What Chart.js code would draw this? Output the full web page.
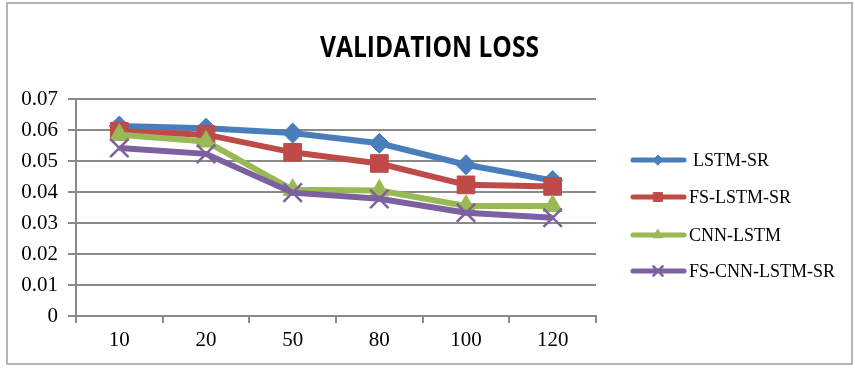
<!DOCTYPE html>
<html>
<head>
<meta charset="utf-8">
<script src="https://cdn.jsdelivr.net/npm/chart.js@4.4.1/dist/chart.umd.min.js"></script>
<style>
  html, body { margin: 0; padding: 0; background: #ffffff; }
  #wrap { width: 855px; height: 369px; }
</style>
</head>
<body>
<div id="wrap"><canvas id="c" width="855" height="369"></canvas></div>
<script>
// Training epochs on the horizontal axis
const epochs = ['10', '20', '50', '80', '100', '120'];

// Validation loss per model
const lstmSR      = [0.0613, 0.0606, 0.0590, 0.0557, 0.0488, 0.0437];
const fsLstmSR    = [0.0596, 0.0585, 0.0528, 0.0492, 0.0423, 0.0418];
const cnnLstm     = [0.0585, 0.0563, 0.0407, 0.0405, 0.0355, 0.0355];
const fsCnnLstmSR = [0.0542, 0.0523, 0.0398, 0.0378, 0.0333, 0.0317];

const seriesNames = ['LSTM-SR', 'FS-LSTM-SR', 'CNN-LSTM', 'FS-CNN-LSTM-SR'];
const yTicks = [0, 0.01, 0.02, 0.03, 0.04, 0.05, 0.06, 0.07];
const chartTitle = 'VALIDATION LOSS';

const serif = '"Liberation Serif", "DejaVu Serif", serif';
const gridGray = '#8a8a8a';

function series(label, data, color, style, radius, order, pbw) {
  return {
    label, data, order,
    borderColor: color,
    backgroundColor: color,
    borderWidth: 6,
    pointStyle: style,
    pointRadius: radius,
    pointHoverRadius: radius,
    pointBackgroundColor: color,
    pointBorderColor: color,
    pointBorderWidth: pbw,
    tension: 0
  };
}

// Outer frame, title and side legend
const decorations = {
  id: 'decorations',
  beforeDraw(chart) {
    const ctx = chart.ctx;
    ctx.save();
    ctx.fillStyle = '#ffffff';
    ctx.fillRect(0, 0, chart.width, chart.height);
    ctx.restore();
  },
  afterDraw(chart) {
    const ctx = chart.ctx;
    ctx.save();
    // frame
    ctx.strokeStyle = '#b4b4b4';
    ctx.lineWidth = 2;
    ctx.strokeRect(7, 3, 845, 361);

    // title, fitted to its width
    ctx.fillStyle = '#000000';
    ctx.font = 'bold 29px "Open Sans", "DejaVu Sans", sans-serif';
    ctx.textBaseline = 'alphabetic';
    ctx.textAlign = 'left';
    const tw = ctx.measureText(chartTitle).width;
    const sx = 219 / tw;
    ctx.translate(320, 57);
    ctx.scale(sx, 1);
    ctx.fillText(chartTitle, 0, 0);
    ctx.restore();

    // legend
    ctx.save();
    const rows = [160, 197, 235, 271];
    chart.data.datasets.forEach((ds, i) => {
      const y = rows[i];
      ctx.strokeStyle = ds.borderColor;
      ctx.lineWidth = 5;
      ctx.lineCap = 'round';
      ctx.beginPath();
      ctx.moveTo(633, y);
      ctx.lineTo(684, y);
      ctx.stroke();
      ctx.fillStyle = ds.borderColor;
      ctx.strokeStyle = ds.borderColor;
      ctx.lineWidth = ds.pointBorderWidth;
      Chart.helpers.drawPoint(ctx, {
        pointStyle: ds.pointStyle,
        radius: ds.pointRadius * 0.5,
        borderWidth: ds.pointBorderWidth,
        rotation: 0
      }, 658, y);
      ctx.fillStyle = '#000000';
      ctx.font = '18px ' + serif;
      ctx.textBaseline = 'middle';
      ctx.textAlign = 'left';
      ctx.fillText(seriesNames[i], i === 0 ? 693 : 689, y + 1);
    });
    ctx.restore();
  }
};

new Chart(document.getElementById('c'), {
  type: 'line',
  data: {
    labels: epochs,
    datasets: [
      series(seriesNames[0], lstmSR, '#4A7EBB', 'rectRot', 10, 4, 1),
      series(seriesNames[1], fsLstmSR, '#BE4B48', 'rect', 12.5, 3, 1),
      series(seriesNames[2], cnnLstm, '#98B954', 'triangle', 11, 2, 1),
      series(seriesNames[3], fsCnnLstmSR, '#7D60A0', 'crossRot', 13, 1, 2.5)
    ]
  },
  options: {
    responsive: false,
    animation: false,
    layout: { padding: { left: 0, top: 99, right: 259, bottom: 0 } },
    plugins: {
      legend: { display: false },
      title: { display: false },
      tooltip: { enabled: false }
    },
    scales: {
      x: {
        type: 'category',
        offset: true,
        afterFit(scale) { scale.height = 53; },
        grid: {
          display: true,
          drawOnChartArea: false,
          drawTicks: true,
          offset: true,
          tickLength: 7,
          color: gridGray,
          lineWidth: 2
        },
        border: { display: true, color: gridGray, width: 2 },
        ticks: {
          color: '#000000',
          font: { family: serif, size: 21 },
          padding: 5,
          maxRotation: 0
        }
      },
      y: {
        min: 0,
        max: 0.07,
        afterFit(scale) { scale.width = 76; },
        afterBuildTicks(scale) { scale.ticks = yTicks.map(v => ({ value: v })); },
        grid: {
          color: gridGray,
          lineWidth: 2,
          tickLength: 8,
          drawTicks: true
        },
        border: { display: true, color: gridGray, width: 2 },
        ticks: {
          color: '#000000',
          font: { family: serif, size: 21 },
          padding: 10,
          callback: v => (v === 0 ? '0' : v.toFixed(2))
        }
      }
    }
  },
  plugins: [decorations]
});
</script>
</body>
</html>
